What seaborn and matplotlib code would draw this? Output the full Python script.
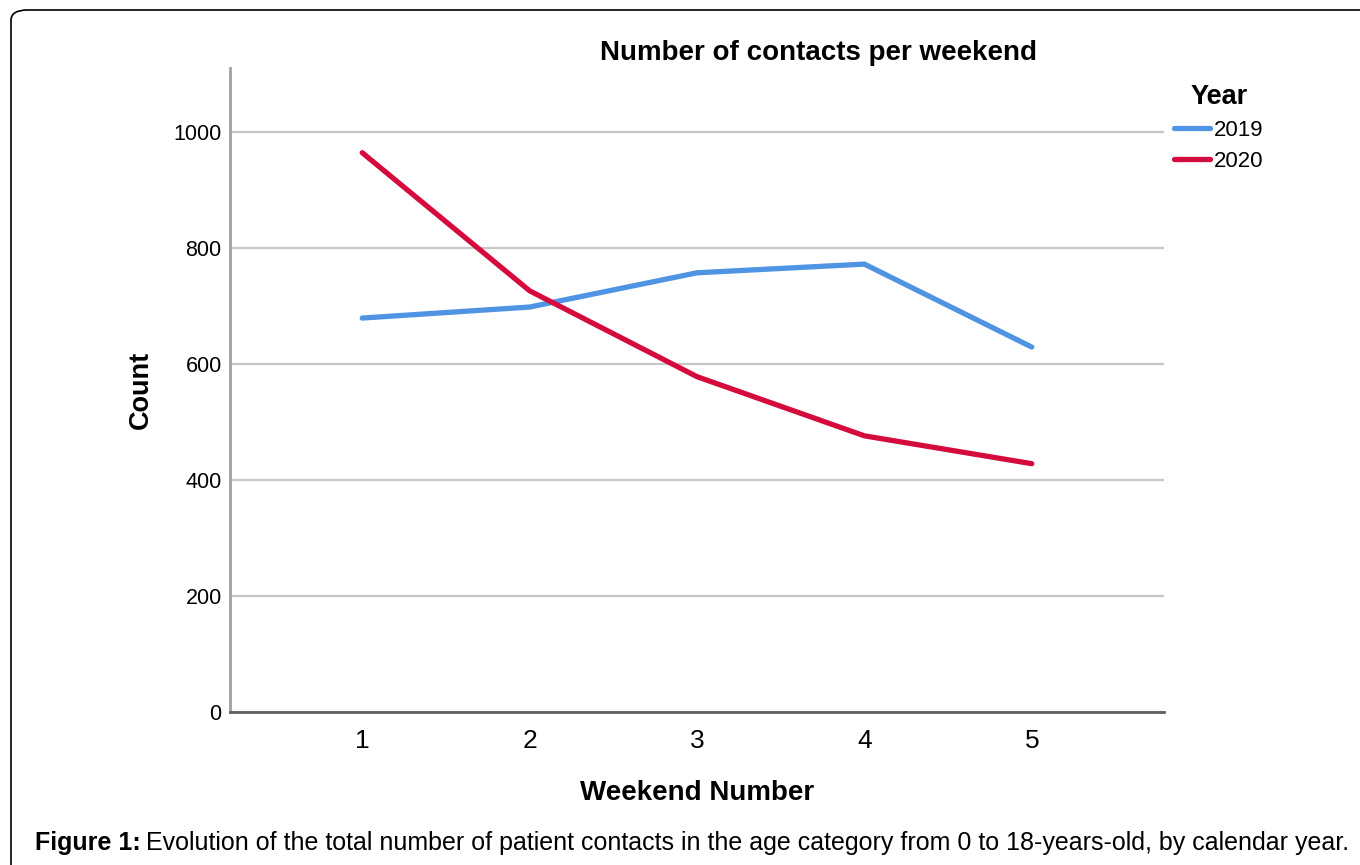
import matplotlib
matplotlib.use("Agg")
import matplotlib.pyplot as plt
import pandas as pd
import seaborn as sns
from matplotlib.patches import FancyBboxPatch

weekends = [1, 2, 3, 4, 5]
count_2019 = [679, 698, 757, 772, 629]
count_2020 = [964, 726, 578, 476, 428]
years = ["2019", "2020"]
yticks = [0, 200, 400, 600, 800, 1000]
caption = ("Evolution of the total number of patient contacts in the age category "
           "from 0 to 18-years-old, by calendar year.")

df = pd.DataFrame({
    "Weekend": weekends * 2,
    "Count": count_2019 + count_2020,
    "Year": [years[0]] * 5 + [years[1]] * 5,
})

sns.set_style("white")
plt.rcParams['font.family'] = ['Liberation Sans', 'DejaVu Sans']
plt.rcParams['text.color'] = 'black'
plt.rcParams['axes.labelcolor'] = 'black'
plt.rcParams['xtick.color'] = 'black'
plt.rcParams['ytick.color'] = 'black'

fig = plt.figure(figsize=(13.6, 8.65), dpi=100)
ax = fig.add_axes([230 / 1360, 1 - 712 / 865, 934 / 1360, 644 / 865])

palette = {"2019": "#4F93E3", "2020": "#D50B3D"}
sns.lineplot(data=df, x="Weekend", y="Count", hue="Year", palette=palette,
             linewidth=3.8, ax=ax, zorder=3)

ax.set_xlim(0.21, 5.79)
ax.set_ylim(0, 1110)
ax.set_yticks(yticks)
ax.set_xticks(weekends)
ax.tick_params(axis='y', labelsize=15.5, length=0, pad=6)
ax.tick_params(axis='x', labelsize=19, length=0, pad=12)
ax.grid(axis='y', color='#c8c8c8', linewidth=1.6, zorder=0)
ax.grid(axis='x', visible=False)
for s in ['top', 'right']:
    ax.spines[s].set_visible(False)
ax.spines['left'].set_color('#a0a0a0')
ax.spines['left'].set_linewidth(2)
ax.spines['bottom'].set_color('#606060')
ax.spines['bottom'].set_linewidth(2)

ax.set_xlabel("Weekend Number", fontsize=20, fontweight='bold', labelpad=20)
ax.set_ylabel("Count", fontsize=19.5, fontweight='bold', labelpad=14)

fig.text(818 / 1360, 1 - 53 / 865, "Number of contacts per weekend",
         fontsize=20, fontweight='bold', ha='center', va='center')

leg = ax.legend(title="Year", loc='upper left', bbox_to_anchor=(1163 / 1360, 1 - 73 / 865),
                bbox_transform=fig.transFigure, frameon=False, fontsize=16,
                title_fontproperties={'weight': 'bold', 'size': 19.5},
                handlelength=1.6, handletextpad=0.2, labelspacing=0.45, borderpad=0)

cap_bold = fig.text(35 / 1360, 1 - 843 / 865, "Figure 1:", fontsize=18,
                    fontweight='bold', va='center')
fig.canvas.draw()
bb = cap_bold.get_window_extent()
fig.text((bb.x1 + 5) / 1360, 1 - 843 / 865, caption, fontsize=18, va='center')

frame = FancyBboxPatch((11 / 1360, -0.05), 1.2, 1 - 10 / 865 + 0.05,
                       boxstyle="round,pad=0,rounding_size=0.012",
                       transform=fig.transFigure, fill=False,
                       edgecolor='black', linewidth=1.2)
fig.patches.append(frame)

fig.savefig("out.png", dpi=100)
